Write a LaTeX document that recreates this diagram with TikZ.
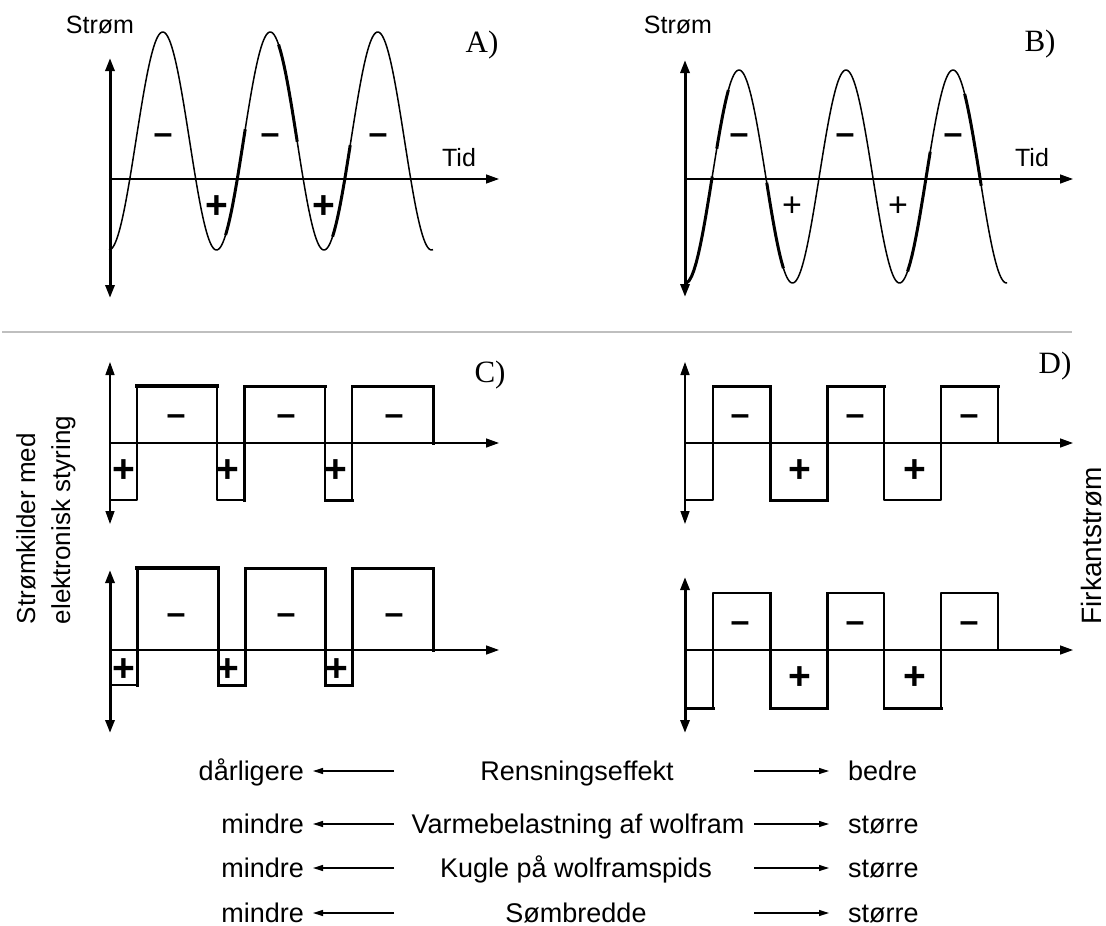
\documentclass[tikz,border=0pt]{standalone}
\usepackage{fontspec}
\setmainfont{Liberation Sans}
\newfontfamily\panelfont{Liberation Serif}
\usetikzlibrary{arrows.meta}
\newcommand{\sinA}[1]{141+109*cos((#1-109)/107.5*360)}
\newcommand{\sinB}[1]{176.5+106.5*cos((#1-685.5)/107*360)}

\begin{document}
\begin{tikzpicture}[
  x=1pt, y=-1pt,
  txt/.style={font=\fontsize{25}{30}\selectfont, inner sep=0pt},
  row/.style={font=\fontsize{27}{30}\selectfont, inner sep=0pt},
  panel/.style={font=\panelfont\fontsize{31}{31}\selectfont, inner sep=0pt},
  sgn/.style={font=\bfseries\fontsize{39}{39}\selectfont, inner sep=0pt},
  neg/.style={font=\bfseries\fontsize{34}{34}\selectfont, inner sep=0pt,
              yshift=-4pt},
  lightsgn/.style={font=\fontsize{34}{34}\selectfont, inner sep=0pt},
  xaxis/.style={line width=1.4pt, -{Triangle[length=13pt,width=9pt]}},
  yaxis/.style={line width=1.4pt,
                {Triangle[length=13pt,width=9pt]}-{Triangle[length=13pt,width=9pt]}},
  yaxisthk/.style={yaxis, line width=3pt},
  wave/.style={line width=1.5pt, line join=round},
  thk/.style={line width=3pt, line cap=rect, line join=miter},
  thkk/.style={line width=4.5pt, line cap=rect},
  arr/.style={line width=1.3pt, -{Triangle[length=10pt,width=6pt]}}
]
\useasboundingbox (0,0) rectangle (1106,926);

% panel A
\coordinate (Atop) at (110,58);
\coordinate (Abot) at (110,298);
\coordinate (Ao) at (110,179);
\coordinate (Ax) at (499,179);
\draw[yaxisthk] (Abot) -- (Atop);
\draw[xaxis] (Ao) -- (Ax);
\draw[wave] plot[domain=109:433, samples=300, smooth] (\x,{\sinA{\x}});
\draw[thk] plot[domain=226:245, samples=12] (\x,{\sinA{\x}});
\draw[thk] plot[domain=279:297, samples=12] (\x,{\sinA{\x}});
\draw[thk] plot[domain=333:350, samples=12] (\x,{\sinA{\x}});
\node[txt] (Ay) at (100,25) {Strøm};
\node[txt] (At) at (459,158) {Tid};
\node[panel] (Al) at (482,45) {A)};
\node[neg] (Am1) at (163,135) {–};
\node[neg] (Am2) at (270,135) {–};
\node[neg] (Am3) at (378,135) {–};
\node[sgn] (Ap1) at (217,207) {+};
\node[sgn] (Ap2) at (324,207) {+};

% panel B
\coordinate (Btop) at (685,60);
\coordinate (Bbot) at (685,297);
\coordinate (Bo) at (685,179);
\coordinate (Bx) at (1073,179);
\draw[yaxisthk] (Bbot) -- (Btop);
\draw[xaxis] (Bo) -- (Bx);
\draw[wave] plot[domain=685.5:1007, samples=300, smooth] (\x,{\sinB{\x}});
\draw[thk] plot[domain=687:712, samples=12] (\x,{\sinB{\x}});
\draw[thk] plot[domain=717:728, samples=8] (\x,{\sinB{\x}});
\draw[thk] plot[domain=767:783, samples=12] (\x,{\sinB{\x}});
\draw[thk] plot[domain=908:930, samples=12] (\x,{\sinB{\x}});
\draw[thk] plot[domain=965:981, samples=12] (\x,{\sinB{\x}});
\node[txt] (By) at (678,25) {Strøm};
\node[txt] (Bt) at (1032,158) {Tid};
\node[panel] (Bl) at (1040,44) {B)};
\node[neg] (Bm1) at (739,135) {–};
\node[neg] (Bm2) at (845,135) {–};
\node[neg] (Bm3) at (953,135) {–};
\node[lightsgn] (Bp1) at (792,207) {+};
\node[lightsgn] (Bp2) at (898,207) {+};

% separator
\draw[black!25, line width=1.2pt] (2,332) -- (1072,332);

% panel C, upper
\coordinate (Ctop) at (110,362);
\coordinate (Cbot) at (110,524);
\coordinate (Co) at (110,443);
\coordinate (Cx) at (499,443);
\draw[yaxis] (Cbot) -- (Ctop);
\draw[xaxis] (Co) -- (Cx);
\draw[wave] (110,500) -- (137,500) -- (137,386) -- (217,386) -- (217,500)
  -- (244,500) -- (244,386) -- (325,386) -- (325,500) -- (352,500)
  -- (352,386) -- (433,386) -- (433,443);
\draw[thkk] (137,386) -- (217,386);
\draw[thk] (244,500) -- (244,386) -- (325,386);
\draw[thk] (325,500) -- (352,500);
\draw[thk] (352,386) -- (433,386) -- (433,443);
\node[panel] (Cl) at (490,375) {C)};
\node[neg] (Cm1) at (176,416) {–};
\node[neg] (Cm2) at (286,416) {–};
\node[neg] (Cm3) at (394,416) {–};
\node[sgn] (Cp1) at (124,471) {+};
\node[sgn] (Cp2) at (228,471) {+};
\node[sgn] (Cp3) at (336,471) {+};

% panel C, lower
\coordinate (Etop) at (110,570);
\coordinate (Ebot) at (110,733);
\coordinate (Eo) at (110,650);
\coordinate (Ex) at (499,650);
\draw[yaxisthk] (Ebot) -- (Etop);
\draw[xaxis] (Eo) -- (Ex);
\draw[wave] (110,685) -- (137,685);
\draw[thk] (137,685) -- (137,568) -- (218,568) -- (218,685) -- (245,685)
  -- (245,568) -- (325,568) -- (325,685) -- (352,685) -- (352,568)
  -- (433,568) -- (433,650);
\draw[thkk] (137,568) -- (218,568);
\node[neg] (Em1) at (176,615) {–};
\node[neg] (Em2) at (286,615) {–};
\node[neg] (Em3) at (394,615) {–};
\node[sgn] (Ep1) at (124,670) {+};
\node[sgn] (Ep2) at (228,670) {+};
\node[sgn] (Ep3) at (337,670) {+};

% panel D, upper
\coordinate (Dtop) at (685,362);
\coordinate (Dbot) at (685,524);
\coordinate (Do) at (685,443);
\coordinate (Dx) at (1073,443);
\draw[yaxis] (Dbot) -- (Dtop);
\draw[xaxis] (Do) -- (Dx);
\draw[wave] (685,500) -- (713,500) -- (713,386) -- (770,386) -- (770,500)
  -- (827,500) -- (827,386) -- (884,386) -- (884,500) -- (941,500)
  -- (941,386) -- (998,386) -- (998,443);
\draw[thk] (713,386) -- (770,386) -- (770,500) -- (827,500) -- (827,386)
  -- (884,386);
\draw[thk] (941,386) -- (998,386);
\node[panel] (Dl) at (1055,366) {D)};
\node[neg] (Dm1) at (740,416) {–};
\node[neg] (Dm2) at (855,416) {–};
\node[neg] (Dm3) at (969,416) {–};
\node[sgn] (Dp1) at (800,471) {+};
\node[sgn] (Dp2) at (915,471) {+};

% panel D, lower
\coordinate (Ftop) at (685,577);
\coordinate (Fbot) at (685,733);
\coordinate (Fo) at (685,650);
\coordinate (Fx) at (1073,650);
\draw[yaxisthk] (Fbot) -- (Ftop);
\draw[xaxis] (Fo) -- (Fx);
\draw[wave] (685,708) -- (713,708) -- (713,593) -- (770,593) -- (770,708)
  -- (827,708) -- (827,593) -- (884,593) -- (884,708) -- (941,708)
  -- (941,593) -- (998,593) -- (998,650);
\draw[thk] (685,708) -- (713,708);
\draw[line width=2.5pt] (713,593) -- (770,593);
\draw[thk] (770,593) -- (770,708) -- (827,708) -- (827,593);
\draw[thk] (884,708) -- (941,708);
\node[neg] (Fm1) at (740,623) {–};
\node[neg] (Fm2) at (855,623) {–};
\node[neg] (Fm3) at (969,623) {–};
\node[sgn] (Fp1) at (800,678) {+};
\node[sgn] (Fp2) at (915,678) {+};

% side labels
\node[txt, rotate=90, align=left, font=\fontsize{26}{35}\selectfont]
  (src) at (46,520) {Strømkilder med\\elektronisk styring};
\node[txt, rotate=90, font=\fontsize{28}{28}\selectfont]
  (sq) at (1092,546) {Firkantstrøm};

% effect rows
\node[row, anchor=base east] (r1l) at (304,780) {dårligere};
\node[row, anchor=base] (r1c) at (577,780) {Rensningseffekt};
\node[row, anchor=base west] (r1r) at (848,780) {bedre};
\node[row, anchor=base east] (r2l) at (304,833) {mindre};
\node[row, anchor=base] (r2c) at (578,833) {Varmebelastning af wolfram};
\node[row, anchor=base west] (r2r) at (848,833) {større};
\node[row, anchor=base east] (r3l) at (304,877) {mindre};
\node[row, anchor=base] (r3c) at (576,877) {Kugle på wolframspids};
\node[row, anchor=base west] (r3r) at (848,877) {større};
\node[row, anchor=base east] (r4l) at (304,922) {mindre};
\node[row, anchor=base] (r4c) at (576,922) {Sømbredde};
\node[row, anchor=base west] (r4r) at (848,922) {større};
\foreach \r in {r1,r2,r3,r4}{
  \draw[arr] ([xshift=90pt,yshift=9pt]\r l.base east)
    -- ([xshift=9pt,yshift=9pt]\r l.base east);
  \draw[arr] ([xshift=-94pt,yshift=9pt]\r r.base west)
    -- ([xshift=-19pt,yshift=9pt]\r r.base west);
}
\end{tikzpicture}
\end{document}
